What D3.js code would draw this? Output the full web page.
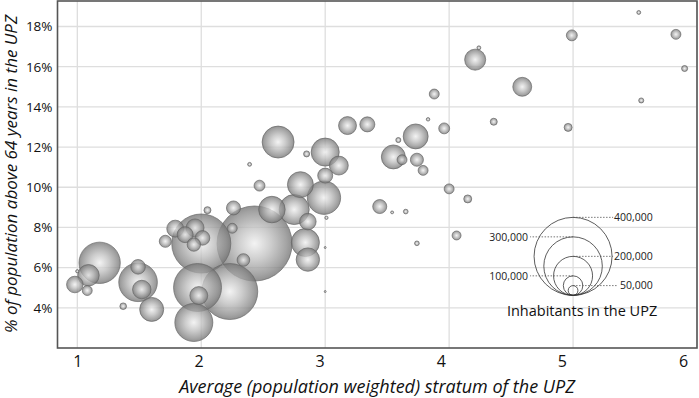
<!DOCTYPE html>
<html>
<head>
<meta charset="utf-8">
<script src="https://cdn.jsdelivr.net/npm/d3@7"></script>
<style>
  body { margin: 0; background: #fff; }
  svg { display: block; font-family: "Open Sans", sans-serif; }
</style>
</head>
<body>
<div id="chart"></div>
<script>
// average stratum, % of population above 64, inhabitants (one entry per UPZ)
const strata = [5.53, 4.99, 5.83, 5.90, 4.24, 4.21, 4.59, 5.55, 4.36, 4.96,
  4.00, 4.15, 4.06, 3.18, 3.34, 3.83, 3.96, 3.59, 3.73, 3.55,
  3.62, 3.74, 3.79, 3.88, 3.44, 3.54, 3.65, 3.74, 2.62, 2.85,
  2.39, 2.47, 3.00, 3.11, 3.00, 2.80, 2.99, 2.75, 2.57, 2.86,
  2.84, 2.86, 3.01, 3.00, 3.00, 2.43, 2.00, 2.23, 1.97, 1.94,
  2.05, 2.26, 2.25, 2.34, 1.79, 1.71, 1.95, 2.01, 1.87, 1.94,
  1.98, 1.18, 1.09, 0.98, 1.08, 1.00, 1.49, 1.49, 1.52, 1.60, 1.37];
const shareOld = [18.70, 17.56, 17.61, 15.91, 16.94, 16.35, 15.00, 14.32, 13.26, 12.98,
  9.92, 9.42, 7.60, 13.07, 13.13, 13.38, 12.93, 12.35, 12.53, 11.51,
  11.37, 11.37, 10.84, 14.64, 9.04, 8.75, 8.79, 7.21, 12.25, 11.66,
  11.14, 10.08, 11.75, 11.08, 10.58, 10.13, 9.48, 8.89, 8.89, 8.29,
  7.25, 6.40, 8.48, 7.00, 4.81, 7.20, 7.20, 4.81, 5.01, 3.27,
  8.86, 8.97, 7.96, 6.38, 7.94, 7.31, 7.98, 7.48, 7.64, 7.15,
  4.61, 6.24, 5.62, 5.16, 4.86, 5.82, 5.27, 6.04, 4.91, 3.92, 4.08];
const inhabitants = [20000, 56000, 51000, 31000, 20000, 108000, 97000, 26000, 36000, 41000,
  51000, 41000, 46000, 92000, 77000, 18000, 56000, 26000, 128000, 123000,
  51000, 67000, 51000, 51000, 72000, 15000, 24000, 24000, 164000, 31000,
  20000, 56000, 144000, 97000, 77000, 133000, 171000, 154000, 136000, 85000,
  144000, 120000, 17000, 10000, 10000, 385000, 303000, 287000, 246000, 195000,
  36000, 72000, 51000, 65000, 87000, 62000, 92000, 75000, 82000, 69000,
  92000, 212000, 110000, 85000, 51000, 17000, 198000, 75000, 95000, 123000, 34000];

const xTicks = [1, 2, 3, 4, 5, 6];
const yTicks = [4, 6, 8, 10, 12, 14, 16, 18];
const legendSizes = [400000, 300000, 200000, 100000, 50000];
const legendLabelSide = ["right", "left", "right", "left", "right"];

const W = 699, H = 398;
const margin = { top: 1, right: 2, bottom: 50, left: 57.5 };
const width = W - margin.left - margin.right;
const height = H - margin.top - margin.bottom;

const data = strata.map((s, i) => ({ x: s, y: shareOld[i], pop: inhabitants[i] }));

const svg = d3.select("#chart").append("svg")
  .attr("width", W).attr("height", H);

const defs = svg.append("defs");
const grad = defs.append("radialGradient").attr("id", "ball")
  .attr("cx", "50%").attr("cy", "50%").attr("r", "50%");
grad.append("stop").attr("offset", "0%").attr("stop-color", "#f0f0f0");
grad.append("stop").attr("offset", "45%").attr("stop-color", "#bebebe");
grad.append("stop").attr("offset", "85%").attr("stop-color", "#8a8a8a");
grad.append("stop").attr("offset", "100%").attr("stop-color", "#727272");

const g = svg.append("g").attr("transform", `translate(${margin.left},${margin.top})`);

const x = d3.scaleLinear().domain([0.84, 6.0]).range([0, width]);
const y = d3.scaleLinear().domain([2, 19.27]).range([height, 0]);
const r = d3.scaleLinear().domain([0, 400000]).range([0, 39]);
// the category labels under the axis drift left of their gridlines in the original
const xLab = d3.scaleLinear().domain([1, 6]).range([x(1), x(6) - 14]);

// grid
g.append("g").selectAll("line").data(xTicks).join("line")
  .attr("x1", d => x(d)).attr("x2", d => x(d))
  .attr("y1", 0).attr("y2", height)
  .attr("stroke", "#dedede").attr("stroke-width", 1.3);
g.append("g").selectAll("line").data(yTicks).join("line")
  .attr("x1", 0).attr("x2", width)
  .attr("y1", d => y(d)).attr("y2", d => y(d))
  .attr("stroke", "#dedede").attr("stroke-width", 1.3);

// axes
const xAxis = g.append("g").attr("transform", `translate(0,${height})`)
  .call(d3.axisBottom(xLab).tickValues(xTicks).tickSize(0).tickPadding(8).tickFormat(d3.format("d")));
xAxis.select(".domain").remove();
xAxis.selectAll("text").attr("font-size", 16).attr("fill", "#111").attr("font-family", "Open Sans");

const yAxis = g.append("g")
  .call(d3.axisLeft(y).tickValues(yTicks).tickSize(0).tickPadding(5).tickFormat(d => d + "%"));
yAxis.select(".domain").remove();
yAxis.selectAll("text").attr("font-size", 13.5).attr("fill", "#111").attr("font-family", "Open Sans");

// bubbles
const sorted = data.slice().sort((a, b) => b.pop - a.pop);
g.append("g").selectAll("circle").data(sorted).join("circle")
  .attr("cx", d => x(d.x))
  .attr("cy", d => y(d.y))
  .attr("r", d => r(d.pop))
  .attr("fill", "url(#ball)")
  .attr("fill-opacity", 0.78)
  .attr("stroke", "#666")
  .attr("stroke-opacity", 0.85)
  .attr("stroke-width", 0.8);

// frame
g.append("rect").attr("width", width).attr("height", height)
  .attr("fill", "none").attr("stroke", "#555").attr("stroke-width", 1.6);

// size legend
const lx = x(5), ly = y(4.62);
const leg = g.append("g");
leg.selectAll("circle").data(legendSizes).join("circle")
  .attr("cx", lx).attr("cy", d => ly - r(d)).attr("r", d => r(d))
  .attr("fill", "none").attr("stroke", "#333").attr("stroke-width", 0.8);
leg.selectAll("line").data(legendSizes).join("line")
  .attr("x1", lx)
  .attr("x2", (d, i) => legendLabelSide[i] === "right" ? lx + (d === 50000 ? 45 : 40) : lx - 43)
  .attr("y1", d => ly - 2 * r(d)).attr("y2", d => ly - 2 * r(d))
  .attr("stroke", "#555").attr("stroke-width", 0.8).attr("stroke-dasharray", "1.5,1.5");
leg.selectAll("text").data(legendSizes).join("text")
  .attr("x", (d, i) => legendLabelSide[i] === "right" ? lx + (d === 50000 ? 47 : 41) : lx - 45)
  .attr("y", d => ly - 2 * r(d))
  .attr("dy", "0.35em")
  .attr("text-anchor", (d, i) => legendLabelSide[i] === "right" ? "start" : "end")
  .attr("font-size", 10.5).attr("fill", "#222")
  .text(d => d3.format(",")(d));
leg.append("text").attr("x", lx + 9).attr("y", ly + 21)
  .attr("text-anchor", "middle").attr("font-size", 14.5).attr("fill", "#111")
  .text("Inhabitants in the UPZ");

// axis titles
svg.append("text")
  .attr("x", 377).attr("y", 393)
  .attr("text-anchor", "middle").attr("font-size", 18).attr("font-style", "italic").attr("fill", "#111")
  .text("Average (population weighted) stratum of the UPZ");
svg.append("text")
  .attr("transform", `translate(17,174) rotate(-90)`)
  .attr("text-anchor", "middle").attr("font-size", 17).attr("font-style", "italic").attr("fill", "#111")
  .text("% of  population above 64 years in the UPZ");
</script>
</body>
</html>
